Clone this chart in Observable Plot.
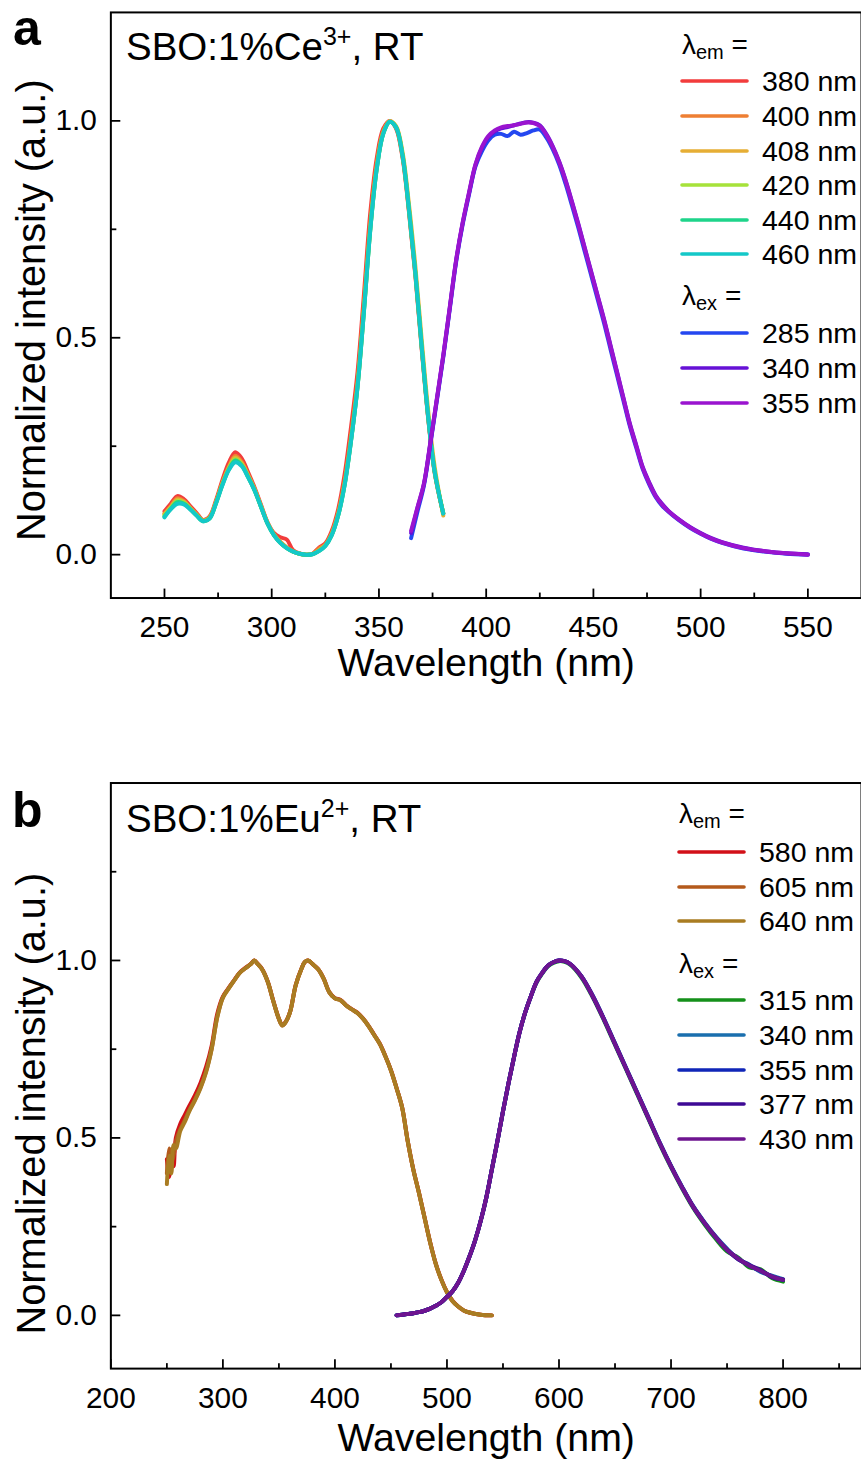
<!DOCTYPE html>
<html>
<head>
<meta charset="utf-8">
<script src="https://cdn.jsdelivr.net/npm/d3@7"></script>
<script src="https://cdn.jsdelivr.net/npm/@observablehq/plot@0.6"></script>
<style>
  html, body { margin: 0; padding: 0; background: #fff; overflow: hidden; }
  .panel { position: relative; width: 861px; overflow: hidden; }
  .panel svg.overlay { position: absolute; left: 0; top: 0; pointer-events: none; }
</style>
</head>
<body>
<div id="pa" class="panel"></div>
<div id="pb" class="panel"></div>
<script>
// ---------------- DATA ----------------
// Panel a: SBO:1%Ce3+ excitation (monitored at λem) and emission (excited at λex)
const exA_wl = [250,253,256,259,262,265,268,271,274,277,280,283,286,289,292,295,298,301,304,307,310,313,316,319,322,325,328,331,334,337,340,343,346,349,352,355,358,361,364,367,370,373,376,380];
const exA_380 = [0.100,0.118,0.135,0.128,0.112,0.096,0.080,0.088,0.125,0.172,0.212,0.236,0.222,0.190,0.155,0.115,0.075,0.050,0.040,0.035,0.010,0.003,0.000,0.002,0.016,0.026,0.055,0.105,0.185,0.295,0.420,0.600,0.790,0.915,0.982,1.000,0.982,0.915,0.790,0.642,0.470,0.312,0.188,0.095];
const exA_400 = [0.095,0.112,0.130,0.124,0.108,0.093,0.079,0.086,0.121,0.166,0.203,0.228,0.214,0.184,0.152,0.112,0.074,0.047,0.030,0.017,0.008,0.002,0.000,0.002,0.014,0.023,0.050,0.097,0.170,0.275,0.400,0.578,0.768,0.902,0.976,0.999,0.984,0.918,0.793,0.646,0.474,0.314,0.190,0.094];
const exA_408 = [0.093,0.110,0.127,0.122,0.107,0.092,0.078,0.085,0.120,0.164,0.200,0.224,0.211,0.182,0.150,0.111,0.073,0.046,0.028,0.016,0.007,0.002,0.000,0.001,0.010,0.021,0.047,0.093,0.164,0.266,0.390,0.566,0.755,0.894,0.972,0.999,0.988,0.928,0.808,0.664,0.492,0.330,0.202,0.090];
const exA_420 = [0.090,0.108,0.124,0.120,0.106,0.091,0.078,0.084,0.119,0.162,0.198,0.220,0.208,0.180,0.149,0.111,0.073,0.046,0.028,0.015,0.007,0.002,0.000,0.001,0.009,0.021,0.046,0.091,0.162,0.264,0.387,0.562,0.752,0.891,0.971,0.998,0.986,0.922,0.798,0.651,0.478,0.318,0.192,0.096];
const exA_440 = [0.088,0.106,0.121,0.118,0.105,0.090,0.077,0.083,0.118,0.161,0.196,0.217,0.206,0.179,0.148,0.110,0.072,0.045,0.027,0.015,0.007,0.002,0.000,0.001,0.008,0.020,0.045,0.090,0.161,0.263,0.386,0.561,0.751,0.890,0.970,0.998,0.985,0.921,0.796,0.649,0.476,0.316,0.191,0.095];
const exA_460 = [0.086,0.105,0.117,0.116,0.104,0.090,0.077,0.083,0.118,0.160,0.195,0.213,0.204,0.178,0.148,0.110,0.072,0.045,0.027,0.015,0.007,0.002,0.000,0.001,0.008,0.020,0.045,0.090,0.160,0.262,0.385,0.560,0.750,0.890,0.970,0.998,0.985,0.920,0.795,0.648,0.475,0.315,0.190,0.095];

const emA_wl = [365,368,371,374,377,380,383,386,389,392,395,398,401,404,407,410,413,416,419,422,425,428,431,434,437,440,443,446,449,452,455,458,461,464,467,470,473,476,479,482,485,490,495,500,505,510,520,530,540,550];
const emA_285 = [0.038,0.100,0.160,0.255,0.355,0.455,0.565,0.675,0.760,0.830,0.895,0.930,0.955,0.968,0.970,0.965,0.975,0.968,0.972,0.978,0.980,0.962,0.935,0.900,0.855,0.805,0.753,0.698,0.643,0.588,0.533,0.473,0.414,0.355,0.296,0.246,0.197,0.162,0.133,0.113,0.099,0.079,0.062,0.048,0.036,0.027,0.014,0.007,0.002,0.000];
const emA_340 = [0.050,0.108,0.163,0.258,0.358,0.458,0.568,0.678,0.763,0.833,0.898,0.938,0.963,0.976,0.983,0.986,0.990,0.994,0.997,0.996,0.990,0.970,0.942,0.907,0.864,0.814,0.762,0.707,0.652,0.597,0.542,0.482,0.422,0.362,0.302,0.252,0.202,0.167,0.137,0.117,0.101,0.081,0.064,0.050,0.038,0.029,0.016,0.008,0.003,0.001];
const emA_355 = [0.055,0.110,0.165,0.260,0.360,0.460,0.570,0.680,0.765,0.835,0.900,0.940,0.965,0.978,0.985,0.988,0.990,0.993,0.996,0.995,0.988,0.968,0.940,0.905,0.862,0.812,0.760,0.705,0.650,0.595,0.540,0.480,0.420,0.360,0.300,0.250,0.200,0.165,0.135,0.115,0.100,0.080,0.063,0.049,0.037,0.028,0.015,0.008,0.003,0.000];

// Panel b: SBO:1%Eu2+
const exB_wl = [250,252,254,256,258,262,266,270,275,280,285,290,295,300,305,310,315,320,325,328,331,335,340,345,350,353,356,360,365,370,373,376,380,385,390,395,400,405,410,415,420,425,430,435,440,445,450,455,460,465,470,475,480,485,490,495,500,505,510,515,520,530,540];
const exB_580 = [0.440,0.390,0.460,0.420,0.500,0.540,0.565,0.590,0.620,0.655,0.700,0.760,0.850,0.898,0.922,0.944,0.966,0.979,0.991,1.000,0.991,0.976,0.941,0.886,0.836,0.818,0.827,0.856,0.931,0.976,0.995,1.000,0.990,0.976,0.949,0.911,0.894,0.889,0.874,0.863,0.853,0.837,0.816,0.791,0.766,0.731,0.691,0.641,0.586,0.491,0.411,0.346,0.276,0.206,0.146,0.101,0.066,0.041,0.025,0.014,0.008,0.002,0.000];
const exB_605 = [0.400,0.470,0.430,0.450,0.490,0.525,0.550,0.578,0.608,0.643,0.688,0.752,0.842,0.896,0.921,0.943,0.965,0.978,0.990,1.000,0.990,0.975,0.940,0.885,0.835,0.817,0.826,0.855,0.930,0.975,0.995,1.000,0.990,0.975,0.948,0.910,0.893,0.888,0.873,0.862,0.852,0.836,0.815,0.790,0.765,0.730,0.690,0.640,0.585,0.490,0.410,0.345,0.275,0.205,0.145,0.100,0.065,0.040,0.025,0.014,0.008,0.002,0.000];
const exB_640 = [0.370,0.450,0.400,0.480,0.470,0.520,0.545,0.575,0.605,0.640,0.685,0.750,0.840,0.895,0.920,0.943,0.965,0.978,0.990,1.000,0.990,0.975,0.940,0.885,0.835,0.817,0.826,0.855,0.930,0.975,0.995,1.000,0.990,0.975,0.948,0.910,0.893,0.888,0.873,0.862,0.852,0.836,0.815,0.790,0.765,0.730,0.690,0.640,0.585,0.490,0.410,0.345,0.275,0.205,0.145,0.100,0.065,0.040,0.025,0.014,0.008,0.002,0.000];

const emB_wl = [455,460,465,470,475,480,485,490,495,500,505,510,515,520,525,530,535,540,545,550,555,560,565,570,575,580,585,590,595,600,605,610,620,630,640,650,660,670,680,690,700,710,720,730,740,750,760,770,780,790,800];
const emB_315 = [0.000,0.002,0.004,0.006,0.009,0.013,0.019,0.027,0.037,0.052,0.068,0.092,0.125,0.165,0.210,0.265,0.330,0.410,0.490,0.575,0.655,0.730,0.800,0.855,0.900,0.938,0.963,0.983,0.993,0.998,0.996,0.988,0.952,0.897,0.832,0.762,0.692,0.622,0.552,0.482,0.417,0.357,0.302,0.256,0.215,0.180,0.163,0.135,0.130,0.105,0.095];
const emB_340 = [0.000,0.002,0.004,0.006,0.009,0.013,0.019,0.027,0.037,0.052,0.068,0.092,0.125,0.165,0.210,0.265,0.330,0.410,0.490,0.575,0.655,0.730,0.800,0.855,0.900,0.940,0.965,0.985,0.995,1.000,0.998,0.990,0.956,0.902,0.837,0.767,0.697,0.627,0.557,0.487,0.422,0.362,0.307,0.262,0.222,0.188,0.158,0.143,0.122,0.112,0.102];
const emB_355 = [0.000,0.002,0.004,0.006,0.009,0.013,0.019,0.027,0.037,0.052,0.068,0.092,0.125,0.165,0.210,0.265,0.330,0.410,0.490,0.575,0.655,0.730,0.800,0.855,0.900,0.940,0.965,0.985,0.995,1.000,0.998,0.990,0.955,0.900,0.835,0.765,0.695,0.625,0.555,0.485,0.420,0.360,0.305,0.260,0.220,0.185,0.160,0.140,0.125,0.110,0.100];
const emB_377 = [0.000,0.002,0.004,0.006,0.009,0.013,0.019,0.027,0.037,0.052,0.068,0.092,0.125,0.165,0.210,0.265,0.330,0.410,0.490,0.575,0.655,0.730,0.800,0.855,0.900,0.940,0.965,0.985,0.995,1.000,0.998,0.990,0.955,0.900,0.835,0.765,0.695,0.625,0.555,0.485,0.420,0.360,0.305,0.260,0.220,0.185,0.158,0.142,0.127,0.108,0.101];
const emB_430 = [0.000,0.002,0.004,0.006,0.009,0.013,0.019,0.027,0.037,0.052,0.068,0.092,0.125,0.165,0.210,0.265,0.330,0.410,0.490,0.575,0.655,0.730,0.800,0.855,0.900,0.940,0.965,0.985,0.995,1.000,0.998,0.990,0.955,0.900,0.835,0.765,0.695,0.625,0.555,0.485,0.420,0.360,0.305,0.260,0.220,0.185,0.160,0.140,0.125,0.110,0.100];

// Series labels & colours
const seriesA_em = ["380 nm","400 nm","408 nm","420 nm","440 nm","460 nm"];
const seriesA_ex = ["285 nm","340 nm","355 nm"];
const colorsA_em = ["#F23C3C","#EE7F33","#E6AE35","#A6E23A","#1ED48A","#14C8C8"];
const colorsA_ex = ["#2447F0","#6611D6","#9A14CF"];
const seriesB_em = ["580 nm","605 nm","640 nm"];
const seriesB_ex = ["315 nm","340 nm","355 nm","377 nm","430 nm"];
const colorsB_em = ["#D21018","#B45A1C","#A97C22"];
const colorsB_ex = ["#14901A","#1A6FAE","#1026B8","#3E0A95","#6E1490"];

// Axis ticks
const xMajorA = [250,300,350,400,450,500,550];
const xMinorA = [275,325,375,425,475,525];
const xMajorB = [200,300,400,500,600,700,800];
const xMinorB = [250,350,450,550,650,750,850];
const yMajorA = [0,0.5,1.0];
const yMinorA = [0.25,0.75];
const yMajorB = [0,0.5,1.0];
const yMinorB = [0.25,0.75,1.25];

// ---------------- BUILD ----------------
const FONT = "'Liberation Sans', Arial, Helvetica, sans-serif";
function rows(wl, vals, s) { return wl.map((w, i) => ({wl: w, v: vals[i], s})); }

const groupsA = [
  {wl: exA_wl, vals: [exA_380, exA_400, exA_408, exA_420, exA_440, exA_460], names: seriesA_em, colors: colorsA_em},
  {wl: emA_wl, vals: [emA_285, emA_340, emA_355], names: seriesA_ex, colors: colorsA_ex}
];
const groupsB = [
  {wl: exB_wl, vals: [exB_580, exB_605, exB_640], names: seriesB_em, colors: colorsB_em},
  {wl: emB_wl, vals: [emB_315, emB_340, emB_355, emB_377, emB_430], names: seriesB_ex, colors: colorsB_ex}
];

function makePanel(cfg) {
  const W = 866, plotW = W - 111, plotH = cfg.height - cfg.mt - cfg.mb;
  const lineMarks = [];
  cfg.groups.forEach(g => g.vals.forEach((vals, i) => {
    lineMarks.push(Plot.line(rows(g.wl, vals, g.names[i]), {
      x: "wl", y: "v", stroke: g.colors[i], strokeWidth: 4, curve: "catmull-rom", strokeLinejoin: "round", strokeLinecap: "round"
    }));
  }));
  return Plot.plot({
    width: W, height: cfg.height,
    marginLeft: 111, marginRight: 0, marginTop: cfg.mt, marginBottom: cfg.mb,
    x: {domain: cfg.xDomain},
    y: {domain: cfg.yDomain},
    style: {fontFamily: FONT, color: "#000", background: "transparent", overflow: "visible"},
    marks: [
      ...lineMarks,
      Plot.frame({stroke: "#000", strokeWidth: 2}),
      Plot.tickX(cfg.xMajor, {x: d => d, stroke: "#000", strokeWidth: 1.8, insetTop: plotH - 9}),
      Plot.tickX(cfg.xMinor, {x: d => d, stroke: "#000", strokeWidth: 1.8, insetTop: plotH - 5}),
      Plot.tickY(cfg.yMajor, {y: d => d, stroke: "#000", strokeWidth: 1.8, insetRight: plotW - 10}),
      Plot.tickY(cfg.yMinor, {y: d => d, stroke: "#000", strokeWidth: 1.8, insetRight: plotW - 6}),
      Plot.axisX(cfg.xMajor, {tickSize: 0, tickPadding: cfg.xPad, fontSize: 30, label: null, tickFormat: d => String(d)}),
      Plot.axisY(cfg.yMajor, {tickSize: 0, tickPadding: 14, fontSize: 30, label: null, tickFormat: d3.format(".1f")}),
      Plot.text(["Wavelength (nm)"], {text: d => d, frameAnchor: "bottom", dy: cfg.xTitleDy, lineAnchor: "middle", textAnchor: "middle", fontSize: 39.5}),
      Plot.text(["Normalized intensity (a.u.)"], {text: d => d, frameAnchor: "left", rotate: -90, dx: -79, dy: cfg.yTitleDy, lineAnchor: "middle", textAnchor: "middle", fontSize: 40})
    ]
  });
}

function addOverlay(container, height, o) {
  const svg = d3.select(container).append("svg").attr("class", "overlay")
    .attr("width", 861).attr("height", height)
    .style("font-family", FONT);
  // panel letter
  svg.append("text").attr("x", o.letterX).attr("y", o.letterY)
    .attr("font-size", 50).attr("font-weight", "bold").text(o.letter);
  // title with superscript
  const t = svg.append("text").attr("x", 126).attr("y", o.titleY).attr("font-size", 38.5);
  t.append("tspan").text(o.titleMain);
  t.append("tspan").attr("dy", -15).attr("font-size", 25).text(o.titleSup);
  t.append("tspan").attr("dy", 15).text(", RT");
  // legend
  const L = o.legend;
  function header(y, sub) {
    const h = svg.append("text").attr("x", L.hx).attr("y", y).attr("font-size", 28).attr("dominant-baseline", "central");
    h.append("tspan").text("λ");
    h.append("tspan").attr("dy", 8).attr("font-size", 20).text(sub);
    h.append("tspan").attr("dy", -8).text(" =");
  }
  function item(y, color, label) {
    svg.append("line").attr("x1", L.x0).attr("x2", L.x1).attr("y1", y).attr("y2", y)
      .attr("stroke", color).attr("stroke-width", 3.6).attr("stroke-linecap", "round");
    svg.append("text").attr("x", L.tx).attr("y", y).attr("font-size", 28.5)
      .attr("dominant-baseline", "central").text(label);
  }
  header(L.hEm, "em");
  L.emNames.forEach((n, i) => item(L.emRows[i], L.emColors[i], n));
  header(L.hEx, "ex");
  L.exNames.forEach((n, i) => item(L.exRows[i], L.exColors[i], n));
}

// Panel a
const pa = document.getElementById("pa");
pa.style.height = "700px";
pa.appendChild(makePanel({
  height: 700, mt: 12, mb: 99, xDomain: [225, 575], yDomain: [-0.1, 1.25],
  groups: groupsA, xMajor: xMajorA, xMinor: xMinorA, yMajor: yMajorA, yMinor: yMinorA,
  xPad: 18, xTitleDy: 66, yTitleDy: 5
}));
addOverlay(pa, 700, {
  letter: "a", letterX: 13, letterY: 45, titleY: 60, titleMain: "SBO:1%Ce", titleSup: "3+",
  legend: {hx: 682, x0: 682, x1: 747, tx: 762,
    hEm: 44, emRows: [81, 116, 151, 185, 220, 254], emNames: seriesA_em, emColors: colorsA_em,
    hEx: 295, exRows: [333, 368, 403], exNames: seriesA_ex, exColors: colorsA_ex}
});

// Panel b
const pb = document.getElementById("pb");
pb.style.height = "761px";
pb.appendChild(makePanel({
  height: 761, mt: 83, mb: 89, xDomain: [200, 870], yDomain: [-0.15, 1.5],
  groups: groupsB, xMajor: xMajorB, xMinor: xMinorB, yMajor: yMajorB, yMinor: yMinorB,
  xPad: 18, xTitleDy: 70, yTitleDy: 28
}));
addOverlay(pb, 761, {
  letter: "b", letterX: 12, letterY: 127, titleY: 132, titleMain: "SBO:1%Eu", titleSup: "2+",
  legend: {hx: 679, x0: 679, x1: 744, tx: 759,
    hEm: 113, emRows: [152, 187, 221], emNames: seriesB_em, emColors: colorsB_em,
    hEx: 263, exRows: [300, 335, 370, 404, 439], exNames: seriesB_ex, exColors: colorsB_ex}
});
</script>
</body>
</html>
